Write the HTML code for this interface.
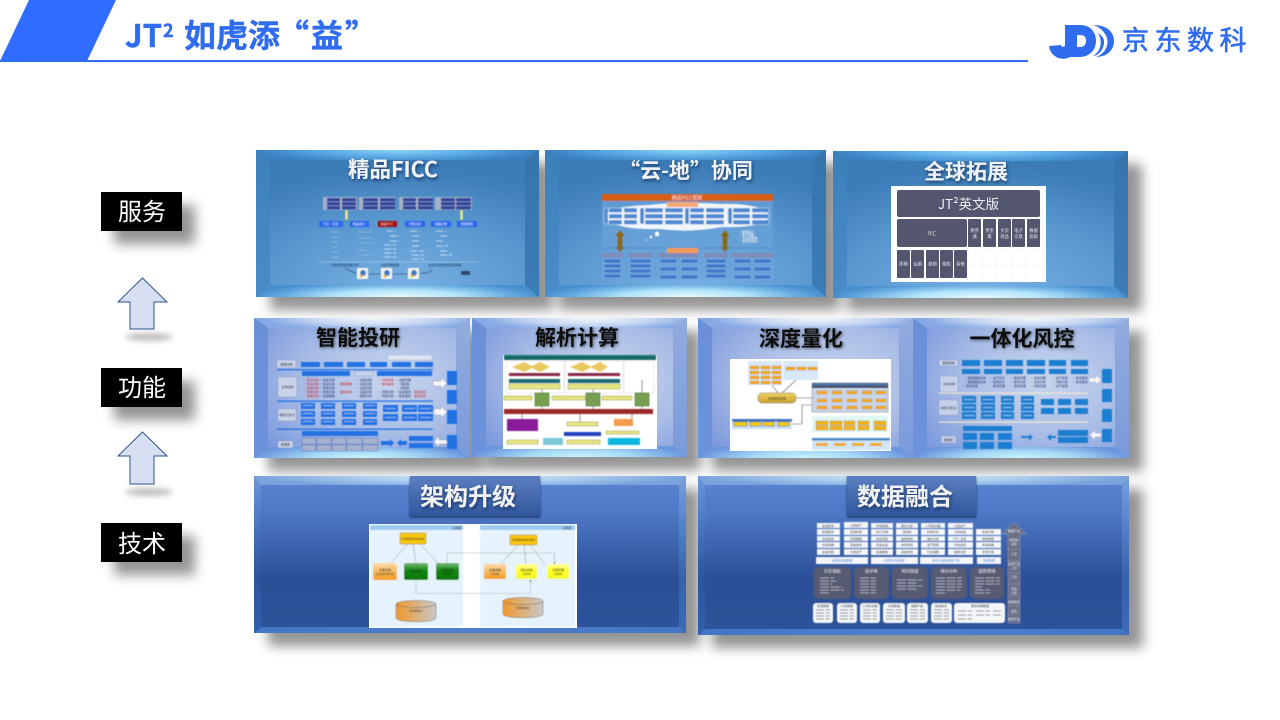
<!DOCTYPE html>
<html lang="zh"><head><meta charset="utf-8"><title>JT² 如虎添“益”</title>
<style>
html,body{margin:0;padding:0;background:#fff;width:1280px;height:720px;overflow:hidden}
svg{display:block}
text{font-family:"Liberation Sans","Noto Sans CJK SC",sans-serif}
.cjk{font-family:"Noto Sans CJK SC","Liberation Sans",sans-serif}
.tw{font-family:"Noto Sans CJK SC",sans-serif;font-weight:700;fill:#f0f3f6;text-anchor:middle}
.tb{font-family:"Noto Sans CJK SC",sans-serif;font-weight:700;fill:#111;text-anchor:middle}
.s{font-family:"Noto Sans CJK SC",sans-serif;font-size:3px;text-anchor:middle}
</style></head><body>
<svg width="1280" height="720" viewBox="0 0 1280 720" xmlns="http://www.w3.org/2000/svg">
<defs>
<filter id="b6" x="-30%" y="-30%" width="160%" height="160%"><feGaussianBlur stdDeviation="6"/></filter>
<filter id="b3" x="-30%" y="-30%" width="160%" height="160%"><feGaussianBlur stdDeviation="3"/></filter>
<filter id="m" x="-5%" y="-5%" width="110%" height="110%"><feGaussianBlur stdDeviation="0.4"/></filter>
<filter id="sw" x="-20%" y="-30%" width="140%" height="170%"><feDropShadow dx="1" dy="2" stdDeviation="1.6" flood-color="#0a2a50" flood-opacity=".75"/></filter>
<filter id="sb" x="-20%" y="-30%" width="140%" height="170%"><feDropShadow dx="1" dy="1" stdDeviation="1.5" flood-color="#000" flood-opacity=".55"/></filter>
<filter id="sbox" x="-10%" y="-20%" width="120%" height="150%"><feDropShadow dx="0" dy="1.5" stdDeviation="1.2" flood-color="#10264f" flood-opacity=".8"/></filter>

<radialGradient id="f1" cx=".52" cy=".95" r=".85"><stop offset="0" stop-color="#78b0e2"/><stop offset=".55" stop-color="#5a98d0"/><stop offset="1" stop-color="#3b7bb6"/></radialGradient>
<radialGradient id="t1" cx=".5" cy="0" r=".5" gradientTransform="translate(.5 0) scale(1 2.6) translate(-.5 0)"><stop offset="0" stop-color="#8ed2fa"/><stop offset=".55" stop-color="#58a8e4"/><stop offset="1" stop-color="#3a80c0"/></radialGradient>
<radialGradient id="bo1" cx=".5" cy="1" r=".5" gradientTransform="translate(.5 1) scale(1 2.6) translate(-.5 -1)"><stop offset="0" stop-color="#eafaff"/><stop offset=".45" stop-color="#b0e4fa"/><stop offset=".8" stop-color="#68ace2"/><stop offset="1" stop-color="#4a90d0"/></radialGradient>
<linearGradient id="l1" x1="0" x2="0" y1="0" y2="1"><stop offset="0" stop-color="#3c80ba"/><stop offset="1" stop-color="#4a8cc8"/></linearGradient>
<linearGradient id="r1" x1="0" x2="0" y1="0" y2="1"><stop offset="0" stop-color="#3674ac"/><stop offset="1" stop-color="#3c7cb8"/></linearGradient>

<radialGradient id="f2" cx=".62" cy=".45" r=".72"><stop offset="0" stop-color="#c9d5ee"/><stop offset=".55" stop-color="#a8bce6"/><stop offset="1" stop-color="#7a98dc"/></radialGradient>
<radialGradient id="t2" cx=".55" cy="0" r=".5" gradientTransform="translate(.55 0) scale(1 2.6) translate(-.55 0)"><stop offset="0" stop-color="#f4f8fc"/><stop offset=".55" stop-color="#c8d8f2"/><stop offset="1" stop-color="#86a8e4"/></radialGradient>
<radialGradient id="bo2" cx=".5" cy="1" r=".5" gradientTransform="translate(.5 1) scale(1 2.6) translate(-.5 -1)"><stop offset="0" stop-color="#c8f4fc"/><stop offset=".5" stop-color="#a4d8f6"/><stop offset="1" stop-color="#6a96de"/></radialGradient>
<linearGradient id="l2" x1="0" x2="0" y1="0" y2="1"><stop offset="0" stop-color="#6c90d8"/><stop offset="1" stop-color="#6c92dc"/></linearGradient>
<linearGradient id="r2" x1="0" x2="0" y1="0" y2="1"><stop offset="0" stop-color="#92acde"/><stop offset="1" stop-color="#7a9ada"/></linearGradient>

<linearGradient id="f3" x1="0" x2="0" y1="0" y2="1"><stop offset="0" stop-color="#5b85d2"/><stop offset=".22" stop-color="#4f79c6"/><stop offset=".65" stop-color="#2b4f96"/><stop offset="1" stop-color="#2d549a"/></linearGradient>
<radialGradient id="t3" cx=".5" cy="0" r=".5" gradientTransform="translate(.5 0) scale(1 2.6) translate(-.5 0)"><stop offset="0" stop-color="#d4eefa"/><stop offset=".55" stop-color="#a8ccee"/><stop offset="1" stop-color="#7aa2dc"/></radialGradient>
<linearGradient id="bo3" x1="0" x2="1" y1="0" y2="0"><stop offset="0" stop-color="#4275c2"/><stop offset=".5" stop-color="#4f80d0"/><stop offset="1" stop-color="#4275c2"/></linearGradient>
<linearGradient id="l3" x1="0" x2="0" y1="0" y2="1"><stop offset="0" stop-color="#6d97d8"/><stop offset=".25" stop-color="#507cc8"/><stop offset=".65" stop-color="#2d549c"/><stop offset="1" stop-color="#3160ae"/></linearGradient>
<linearGradient id="r3" x1="0" x2="0" y1="0" y2="1"><stop offset="0" stop-color="#78a0de"/><stop offset=".25" stop-color="#5c88d2"/><stop offset=".65" stop-color="#3660aa"/><stop offset="1" stop-color="#3d6cb8"/></linearGradient>
<linearGradient id="tb" x1="0" x2="0" y1="0" y2="1"><stop offset="0" stop-color="#5a7ec0"/><stop offset="1" stop-color="#32569c"/></linearGradient>
<linearGradient id="ye" x1="0" x2="0" y1="0" y2="1"><stop offset="0" stop-color="#f0d060"/><stop offset="1" stop-color="#caa030"/></linearGradient>
<linearGradient id="db" x1="0" x2="1" y1="0" y2="0"><stop offset="0" stop-color="#f0982c"/><stop offset="1" stop-color="#c8c8c8"/></linearGradient>
<linearGradient id="og" x1="0" x2="0" y1="0" y2="1"><stop offset="0" stop-color="#fbd9a8"/><stop offset="1" stop-color="#f59a1c"/></linearGradient>
<linearGradient id="gr" x1="0" x2="0" y1="0" y2="1"><stop offset="0" stop-color="#7cb87c"/><stop offset=".45" stop-color="#0c860c"/><stop offset="1" stop-color="#0a7a0a"/></linearGradient>
<linearGradient id="yl" x1="0" x2="0" y1="0" y2="1"><stop offset="0" stop-color="#ffffa0"/><stop offset=".5" stop-color="#ffff20"/><stop offset="1" stop-color="#f4f430"/></linearGradient>
</defs>

<rect width="1280" height="720" fill="#fff"/>

<!-- header -->
<polygon points="0,61 29,0 116,0 87,61" fill="#2f6cff"/>
<rect x="0" y="60" width="1028" height="2" fill="#2f6cf6"/>
<g font-weight="700" fill="#2f6cf0" stroke="#2f6cf0" stroke-width=".4">
<text x="125" y="47" font-size="31" class="cjk">JT</text>
<text x="163" y="37" font-size="18" class="cjk">2</text>
<text x="184" y="47" font-size="32" class="cjk">如虎添</text>
<text x="277" y="47" font-size="32" class="cjk">“</text>
<text x="311" y="47" font-size="32" class="cjk">益</text>
<text x="345" y="47" font-size="32" class="cjk">”</text>
</g>
<!-- logo -->
<g fill="none" stroke="#2f6cf0">
<path d="M1071 25V44A8 8 0 0 1 1055 45.500" stroke-width="12"/>
<path d="M1071 30H1080C1087 30 1091 34 1091 41C1091 47 1087 52 1080 52H1066" stroke-width="10"/>
</g>
<g fill="#2f6cf0">
<path d="M1093 25C1107 25 1114 32 1114 41C1114 50 1107 57 1096 57C1104 54 1109 47 1107 38C1105 32 1100 27 1093 25Z"/>
<path d="M1098 33C1103 42 1101 51 1093 56C1098 56 1105 49 1104 40C1103 37 1101 35 1098 33Z"/>
</g>
<text x="1122" y="50" font-size="27" letter-spacing="5.500" fill="#2f6cf0" stroke="#2f6cf0" stroke-width=".6" class="cjk">京东数科</text>

<!-- left column -->
<g filter="url(#b6)" fill="#000" opacity=".42">
<rect x="114" y="205" width="81" height="39"/><rect x="114" y="381" width="81" height="39"/><rect x="114" y="536" width="81" height="39"/>
</g>
<g filter="url(#b3)" fill="#000" opacity=".25">
<ellipse cx="149" cy="337" rx="24" ry="4"/><ellipse cx="149" cy="492" rx="24" ry="4"/>
</g>
<g fill="#000"><rect x="101" y="192" width="81" height="39"/><rect x="101" y="368" width="81" height="39"/><rect x="101" y="523" width="81" height="39"/></g>
<g fill="#fff" font-size="24" text-anchor="middle" class="cjk">
<text x="142" y="220" class="cjk">服务</text><text x="142" y="396" class="cjk">功能</text><text x="142" y="552" class="cjk">技术</text>
</g>
<g fill="#d6e0f2" stroke="#2f528f" stroke-width="1">
<polygon points="142.500,278 167,302 154,302 154,329 130,329 130,302 118,302"/>
<polygon points="142.500,432 167,456 154,456 154,484 130,484 130,456 118,456"/>
</g>

<!-- shadows -->
<g filter="url(#b6)" fill="#000" opacity=".42">
<rect x="270" y="163" width="283" height="147"/><rect x="559" y="163" width="281" height="147"/><rect x="847" y="164" width="295" height="147"/>
<rect x="268" y="331" width="216" height="140"/><rect x="486" y="331" width="215" height="139"/><rect x="712" y="331" width="215" height="140"/><rect x="927" y="331" width="216" height="140"/>
<rect x="268" y="489" width="432" height="157"/><rect x="712" y="489" width="431" height="159"/>
</g>

<!-- Row 1 panels -->
<rect x="256" y="150" width="283" height="147" fill="url(#f1)"/>
<polygon points="256,150 539,150 525,160 270,160" fill="url(#t1)"/><polygon points="256,297 539,297 525,285 270,285" fill="url(#bo1)"/><polygon points="256,150 270,160 270,285 256,297" fill="url(#l1)"/><polygon points="539,150 525,160 525,285 539,297" fill="url(#r1)"/>
<rect x="545" y="150" width="281" height="147" fill="url(#f1)"/>
<polygon points="545,150 826,150 812,160 559,160" fill="url(#t1)"/><polygon points="545,297 826,297 812,285 559,285" fill="url(#bo1)"/><polygon points="545,150 559,160 559,285 545,297" fill="url(#l1)"/><polygon points="826,150 812,160 812,285 826,297" fill="url(#r1)"/>
<rect x="833" y="151" width="295" height="147" fill="url(#f1)"/>
<polygon points="833,151 1128,151 1114,161 847,161 " fill="url(#t1)"/><polygon points="833,298 1128,298 1114,286 847,286" fill="url(#bo1)"/><polygon points="833,151 847,161 847,286 833,298" fill="url(#l1)"/><polygon points="1128,151 1114,161 1114,286 1128,298" fill="url(#r1)"/>

<!-- Row 2 panels -->
<rect x="254" y="318" width="216" height="140" fill="url(#f2)"/>
<polygon points="254,318 470,318 456,328 268,328" fill="url(#t2)"/><polygon points="254,458 470,458 456,447 268,447" fill="url(#bo2)"/><polygon points="254,318 268,328 268,447 254,458" fill="url(#l2)"/><polygon points="470,318 456,328 456,447 470,458" fill="url(#r2)"/>
<rect x="472" y="318" width="215" height="139" fill="url(#f2)"/>
<polygon points="472,318 687,318 673,328 486,328" fill="url(#t2)"/><polygon points="472,457 687,457 673,446 486,446" fill="url(#bo2)"/><polygon points="472,318 486,328 486,446 472,457" fill="url(#l2)"/><polygon points="687,318 673,328 673,446 687,457" fill="url(#r2)"/>
<rect x="698" y="318" width="215" height="140" fill="url(#f2)"/>
<polygon points="698,318 913,318 899,328 712,328" fill="url(#t2)"/><polygon points="698,458 913,458 899,447 712,447" fill="url(#bo2)"/><polygon points="698,318 712,328 712,447 698,458" fill="url(#l2)"/><polygon points="913,318 899,328 899,447 913,458" fill="url(#r2)"/>
<rect x="913" y="318" width="216" height="140" fill="url(#f2)"/>
<polygon points="913,318 1129,318 1115,328 927,328" fill="url(#t2)"/><polygon points="913,458 1129,458 1115,447 927,447" fill="url(#bo2)"/><polygon points="913,318 927,328 927,447 913,458" fill="url(#l2)"/><polygon points="1129,318 1115,328 1115,447 1129,458" fill="url(#r2)"/>

<!-- Row 3 panels -->
<rect x="254" y="476" width="432" height="157" fill="url(#f3)"/>
<polygon points="254,476 686,476 679,485 261,485" fill="url(#t3)"/><polygon points="254,633 686,633 679,627 261,627" fill="url(#bo3)"/><polygon points="254,476 261,485 261,627 254,633" fill="url(#l3)"/><polygon points="686,476 679,485 679,627 686,633" fill="url(#r3)"/>
<rect x="698" y="476" width="431" height="159" fill="url(#f3)"/>
<polygon points="698,476 1129,476 1122,485 705,485" fill="url(#t3)"/><polygon points="698,635 1129,635 1122,629 705,629" fill="url(#bo3)"/><polygon points="698,476 705,485 705,629 698,635" fill="url(#l3)"/><polygon points="1129,476 1122,485 1122,629 1129,635" fill="url(#r3)"/>
<rect x="410" y="476" width="130" height="40" fill="url(#tb)" filter="url(#sbox)"/>
<rect x="847" y="476" width="129" height="40" fill="url(#tb)" filter="url(#sbox)"/>

<!-- Titles -->
<g filter="url(#sw)">
<text x="393" y="177" font-size="21.500" class="tw">精品FICC</text>
<text x="686" y="178" font-size="21" class="tw">“云-地”协同</text>
<text x="966" y="179" font-size="21" class="tw">全球拓展</text>
<text x="468" y="505" font-size="24" class="tw">架构升级</text>
<text x="905" y="505" font-size="24" class="tw">数据融合</text>
</g>
<g filter="url(#sb)">
<text x="358" y="345" font-size="21" class="tb">智能投研</text>
<text x="577" y="345" font-size="21" class="tb">解析计算</text>
<text x="801" y="346" font-size="21" class="tb">深度量化</text>
<text x="1022" y="346" font-size="21" class="tb">一体化风控</text>
</g>

<!-- P1 diagram -->
<g filter="url(#m)">
<g fill="#a4b0c8"><rect x="323" y="197" width="34" height="13"/><rect x="359" y="197" width="36" height="13"/><rect x="399" y="197" width="34" height="13"/><rect x="435" y="197" width="37" height="13"/></g>
<g fill="#33449c">
<rect x="327" y="198" width="13" height="3.500"/><rect x="342" y="198" width="14" height="3.500"/><rect x="327" y="202" width="13" height="3.500"/><rect x="342" y="202" width="14" height="3.500"/><rect x="327" y="206" width="13" height="3.500"/><rect x="342" y="206" width="14" height="3.500"/>
<rect x="363" y="198" width="15" height="3.500"/><rect x="380" y="198" width="15" height="3.500"/><rect x="363" y="202" width="15" height="3.500"/><rect x="380" y="202" width="15" height="3.500"/><rect x="363" y="206" width="15" height="3.500"/><rect x="380" y="206" width="15" height="3.500"/>
<rect x="403" y="198" width="13" height="3.500"/><rect x="418" y="198" width="15" height="3.500"/><rect x="403" y="202" width="13" height="3.500"/><rect x="418" y="202" width="15" height="3.500"/><rect x="403" y="206" width="13" height="3.500"/><rect x="418" y="206" width="15" height="3.500"/>
<rect x="441" y="198" width="14" height="3.500"/><rect x="456" y="198" width="15" height="3.500"/><rect x="441" y="202" width="14" height="3.500"/><rect x="456" y="202" width="15" height="3.500"/><rect x="441" y="206" width="14" height="3.500"/><rect x="456" y="206" width="15" height="3.500"/>
</g>
<g fill="#e6e8a8" stroke="#4f7a50" stroke-width=".4"><rect x="345" y="210" width="3" height="10"/><rect x="460" y="210" width="3" height="10"/></g>
<g fill="#2a68f0"><rect x="319" y="221" width="24" height="6"/><rect x="350" y="221" width="19" height="6"/><rect x="405" y="221" width="20" height="6"/><rect x="431" y="221" width="20" height="6"/><rect x="457" y="221" width="20" height="6"/></g>
<rect x="378" y="221" width="19" height="6" fill="#a01010"/>
<g><text x="331" y="225.200" class="s" fill="#eef">外汇·衍生</text><text x="359" y="225.200" class="s" fill="#eef">精品定价</text><text x="415" y="225.200" class="s" fill="#eef">风险分析</text><text x="441" y="225.200" class="s" fill="#eef">策略交易</text><text x="467" y="225.200" class="s" fill="#eef">数据服务</text><text x="387" y="225.200" class="s" fill="#fcc">精品FICC</text></g>
<g stroke="#a8cfee" stroke-width="1" stroke-dasharray="7 2" opacity=".6"><path d="M330 232H340M332 237H338M332 242H338M332 247H338M332 252H338M332 257H338"/><path d="M358 232H372M360 238H372M360 243H372M358 250H368M362 255H372"/></g>
<g stroke="#dff0ff" stroke-width="1" stroke-dasharray="7 2" opacity=".75"><path d="M386 231H396M390 236H400M390 241H400M384 245H396M384 249H396M384 253H396M384 257H396"/><path d="M410 231H420M412 236H420M412 241H420M412 246H420M410 251H424M412 255H424M412 259H424"/><path d="M436 231H446M440 236H448M436 241H444M436 246H448M440 251H448M440 255H452"/></g>
<path d="M319 262H478" stroke="#b8d4ec" stroke-width=".5"/>
<text x="345" y="266" class="s" fill="#163058">综合研究和决策分析</text><text x="390" y="266" class="s" fill="#163058">交易流程管理</text><text x="445" y="266" class="s" fill="#163058">投资支持和中台风控管理</text>
<path d="M345 268Q355 274 358 273M432 270Q430 274 420 273M369 274H383M393 274H408" stroke="#1e3a5a" fill="none" stroke-width=".6"/>
<g fill="#f5f5e8"><rect x="357" y="268" width="11" height="11"/><rect x="381" y="268" width="11" height="11"/><rect x="408" y="268" width="11" height="11"/></g>
<g fill="#3d78c8"><circle cx="363" cy="273" r="3"/><circle cx="387" cy="273" r="3"/><circle cx="414" cy="273" r="3"/></g>
<g fill="#e0b040"><circle cx="361" cy="276" r="1.500"/><circle cx="385" cy="276" r="1.500"/><circle cx="412" cy="276" r="1.500"/></g>
<rect x="461" y="271" width="9" height="4" rx="1" fill="#2d4a70"/>
</g>

<!-- P2 diagram -->
<g filter="url(#m)">
<rect x="602" y="201" width="171" height="78" fill="#6aa2d8" opacity=".7"/>
<rect x="602" y="194" width="171" height="7" fill="#d65f14"/>
<text x="687" y="199.500" class="s" style="font-size:5px" fill="#fde">精品FICC框架</text>
<path d="M604 216Q610 206 650 205Q680 201 720 204Q762 203 770 216Q764 228 722 227Q690 233 660 229Q612 230 604 216Z" fill="#f2f6fa"/>
<rect x="667" y="202" width="31" height="5" fill="#f3a874"/>
<g fill="#4f88d2" stroke="#eef4fb" stroke-width=".4">
<rect x="604" y="208" width="4" height="16"/><rect x="640" y="208" width="4" height="16"/><rect x="685" y="208" width="4" height="16"/><rect x="728" y="208" width="4" height="16"/>
<rect x="609" y="208" width="13" height="4.500"/><rect x="624" y="208" width="13" height="4.500"/><rect x="609" y="214" width="13" height="4.500"/><rect x="624" y="214" width="13" height="4.500"/><rect x="609" y="220" width="13" height="4.500"/><rect x="624" y="220" width="13" height="4.500"/>
<rect x="645" y="208" width="18" height="4.500"/><rect x="665" y="208" width="18" height="4.500"/><rect x="645" y="214" width="18" height="4.500"/><rect x="665" y="214" width="18" height="4.500"/><rect x="645" y="220" width="18" height="4.500"/><rect x="665" y="220" width="18" height="4.500"/>
<rect x="690" y="208" width="14" height="4.500"/><rect x="706" y="208" width="18" height="4.500"/><rect x="690" y="214" width="14" height="4.500"/><rect x="706" y="214" width="18" height="4.500"/><rect x="690" y="220" width="14" height="4.500"/><rect x="706" y="220" width="18" height="4.500"/>
<rect x="733" y="208" width="17" height="4.500"/><rect x="752" y="208" width="17" height="4.500"/><rect x="733" y="214" width="17" height="4.500"/><rect x="752" y="214" width="17" height="4.500"/><rect x="733" y="220" width="17" height="4.500"/><rect x="752" y="220" width="17" height="4.500"/>
</g>
<g fill="#8a6a0c"><polygon points="620,230 625,236 622.500,236 622.500,247 625,247 620,252 615,247 617.500,247 617.500,236 615,236"/><polygon points="725,230 730,236 727.500,236 727.500,247 730,247 725,252 720,247 722.500,247 722.500,236 720,236"/></g>
<g fill="#fff"><circle cx="657" cy="234" r="2.200"/><circle cx="651" cy="237" r="1.200"/><circle cx="647" cy="240" r=".6"/></g>
<text x="746" y="233" class="s" fill="#fff">· 数据接口</text><text x="746" y="236" class="s" fill="#fff">· 算子调用</text><text x="748" y="239" class="s" fill="#fff">· 平台化服务</text><text x="748" y="242" class="s" fill="#fff">· 配置化运营</text>
<path d="M602 248H773" stroke="#3f78b4" stroke-width=".5"/>
<rect x="667" y="248" width="31" height="5" fill="#f39a58"/>
<g fill="#7f8cb8"><rect x="602" y="253" width="21" height="4.500"/><rect x="628" y="253" width="25" height="4.500"/><rect x="658" y="253" width="41" height="4.500"/><rect x="704" y="253" width="24" height="4.500"/><rect x="732" y="253" width="41" height="4.500"/></g>
<g fill="#3f78cc" stroke="#9cc2e8" stroke-width=".4">
<rect x="604" y="259" width="17" height="4"/><rect x="604" y="264" width="17" height="4"/><rect x="604" y="269" width="17" height="4"/><rect x="604" y="274" width="17" height="4"/>
<rect x="630" y="259" width="21" height="4"/><rect x="630" y="264" width="21" height="4"/><rect x="630" y="269" width="21" height="4"/><rect x="630" y="274" width="21" height="4"/>
<rect x="660" y="259" width="17" height="4"/><rect x="681" y="259" width="17" height="4"/><rect x="660" y="267" width="17" height="4"/><rect x="681" y="267" width="17" height="4"/><rect x="660" y="275" width="17" height="4"/><rect x="681" y="275" width="17" height="4"/>
<rect x="706" y="259" width="20" height="4"/><rect x="706" y="264" width="20" height="4"/><rect x="706" y="269" width="20" height="4"/><rect x="706" y="274" width="20" height="4"/>
<rect x="734" y="259" width="17" height="4"/><rect x="754" y="259" width="17" height="4"/><rect x="734" y="267" width="17" height="4"/><rect x="754" y="267" width="17" height="4"/><rect x="734" y="275" width="17" height="4"/><rect x="754" y="275" width="17" height="4"/>
</g>
</g>

<!-- P3 diagram -->
<rect x="891" y="186" width="155" height="96" fill="#fff"/>
<g stroke="#ececec" stroke-width=".5"><path d="M968 250V282M982 250V282M997 250V282M1011 250V282M1026 250V282M968 250H1040M968 265H1040"/></g>
<g fill="#53566e">
<rect x="897" y="190" width="143" height="27" rx="2"/><rect x="897" y="219" width="70" height="28" rx="2"/>
<rect x="968" y="219" width="13" height="28" rx="1"/><rect x="983" y="219" width="13" height="28" rx="1"/><rect x="998" y="219" width="13" height="28" rx="1"/><rect x="1012" y="219" width="13" height="28" rx="1"/><rect x="1027" y="219" width="13" height="28" rx="1"/>
<rect x="897" y="250" width="13" height="28" rx="1"/><rect x="911" y="250" width="13" height="28" rx="1"/><rect x="926" y="250" width="13" height="28" rx="1"/><rect x="940" y="250" width="13" height="28" rx="1"/><rect x="954" y="250" width="13" height="28" rx="1"/>
</g>
<text x="968.500" y="209" style="font-size:13.500px;text-anchor:middle" class="cjk" fill="#eeeef4">JT²英文版</text>
<text x="932" y="235" class="s" style="font-size:4.500px" fill="#e8e8f0">外汇</text>
<text x="974.500" y="232" class="s" style="font-size:4.300px" fill="#e8e8f0">债券</text><text x="974.500" y="238" class="s" style="font-size:4.300px" fill="#e8e8f0">通</text>
<text x="989.500" y="232" class="s" style="font-size:4.300px" fill="#e8e8f0">贵金</text><text x="989.500" y="238" class="s" style="font-size:4.300px" fill="#e8e8f0">属</text>
<text x="1004.500" y="232" class="s" style="font-size:4.300px" fill="#e8e8f0">大宗</text><text x="1004.500" y="238" class="s" style="font-size:4.300px" fill="#e8e8f0">商品</text>
<text x="1018.500" y="232" class="s" style="font-size:4.300px" fill="#e8e8f0">电子</text><text x="1018.500" y="238" class="s" style="font-size:4.300px" fill="#e8e8f0">交易</text>
<text x="1033.500" y="232" class="s" style="font-size:4.300px" fill="#e8e8f0">数据</text><text x="1033.500" y="238" class="s" style="font-size:4.300px" fill="#e8e8f0">投研</text>
<text x="903.500" y="265.500" class="s" style="font-size:4.300px" fill="#e8e8f0">即期</text><text x="917.500" y="265.500" class="s" style="font-size:4.300px" fill="#e8e8f0">远期</text><text x="932.500" y="265.500" class="s" style="font-size:4.300px" fill="#e8e8f0">掉期</text><text x="946.500" y="265.500" class="s" style="font-size:4.300px" fill="#e8e8f0">期权</text><text x="960.500" y="265.500" class="s" style="font-size:4.300px" fill="#e8e8f0">拆借</text>

<!-- P4 diagram -->
<g filter="url(#m)">
<rect x="388" y="355" width="44" height="5" fill="#dfe5f5" stroke="#99a" stroke-width=".3"/>
<g fill="#c9d3ea" stroke="#7080b0" stroke-width=".3"><rect x="277" y="360" width="19" height="8"/><rect x="278" y="377" width="19" height="20"/><rect x="278" y="409" width="18" height="12"/><rect x="278" y="441" width="15" height="7"/><rect x="355" y="371" width="18" height="5"/></g>
<text x="286.500" y="365.500" class="s" fill="#223">数据领域</text><text x="287.500" y="388" class="s" fill="#223">业务应用</text><text x="287" y="416" class="s" fill="#223">模型与算法</text><text x="285.500" y="445.700" class="s" fill="#223">数据层</text>
<g fill="#2472e4">
<rect x="301" y="362" width="19" height="5"/><rect x="324" y="362" width="19" height="5"/><rect x="347" y="362" width="18" height="5"/><rect x="370" y="362" width="17" height="5"/><rect x="392" y="362" width="19" height="5"/><rect x="415" y="362" width="18" height="5"/>
<rect x="277" y="369" width="156" height="1.300"/><rect x="277" y="400.500" width="156" height="1.300"/><rect x="277" y="428.500" width="156" height="1.300"/>
<rect x="302" y="371" width="48" height="5"/><rect x="377" y="371" width="55" height="5"/>
<rect x="301" y="403" width="14" height="6"/><rect x="321" y="403" width="14" height="6"/><rect x="342" y="403" width="14" height="6"/><rect x="363" y="403" width="14" height="6"/>
<rect x="301" y="411" width="14" height="6"/><rect x="321" y="411" width="14" height="6"/><rect x="342" y="411" width="14" height="6"/><rect x="363" y="411" width="14" height="6"/>
<rect x="301" y="419" width="14" height="6"/><rect x="321" y="419" width="14" height="6"/><rect x="342" y="419" width="14" height="6"/><rect x="363" y="419" width="14" height="6"/>
<rect x="383" y="405" width="15" height="7"/><rect x="402" y="405" width="15" height="7"/><rect x="418" y="405" width="15" height="7"/><rect x="383" y="414" width="15" height="7"/><rect x="402" y="414" width="15" height="7"/><rect x="418" y="414" width="15" height="7"/>
<rect x="302" y="431" width="76" height="5"/>
<rect x="409" y="436" width="24" height="5"/><rect x="409" y="443" width="24" height="5"/>
<rect x="447" y="371" width="10" height="14"/><rect x="447" y="390" width="10" height="14"/><rect x="447" y="410" width="10" height="14"/><rect x="447" y="435" width="10" height="14"/>
<polygon points="381,441 390,441 390,439 394,443 390,447 390,445 381,445"/><polygon points="407,441 401,441 401,439 397,443 401,447 401,445 407,445"/>
</g>
<g fill="#e8eefc" opacity=".55"><rect x="303" y="405" width="10" height="1"/><rect x="323" y="405" width="10" height="1"/><rect x="344" y="405" width="10" height="1"/><rect x="365" y="405" width="10" height="1"/><rect x="303" y="413" width="10" height="1"/><rect x="323" y="413" width="10" height="1"/><rect x="344" y="413" width="10" height="1"/><rect x="365" y="413" width="10" height="1"/><rect x="303" y="421" width="10" height="1"/><rect x="323" y="421" width="10" height="1"/><rect x="344" y="421" width="10" height="1"/><rect x="365" y="421" width="10" height="1"/><rect x="385" y="408" width="11" height="1"/><rect x="404" y="408" width="11" height="1"/><rect x="420" y="408" width="11" height="1"/><rect x="385" y="417" width="11" height="1"/><rect x="404" y="417" width="11" height="1"/><rect x="420" y="417" width="11" height="1"/></g>
<g fill="#a8b2cc" stroke="#2f5cc0" stroke-width=".4">
<rect x="302" y="438" width="14" height="6"/><rect x="317" y="438" width="14" height="6"/><rect x="332" y="438" width="14" height="6"/><rect x="347" y="438" width="15" height="6"/><rect x="363" y="438" width="15" height="6"/>
<rect x="302" y="445" width="14" height="6"/><rect x="317" y="445" width="14" height="6"/><rect x="332" y="445" width="14" height="6"/><rect x="347" y="445" width="15" height="6"/><rect x="363" y="445" width="15" height="6"/>
</g>
<g><text x="311" y="381" class="s" fill="#d01818">· 定价分析</text><text x="311" y="385" class="s" fill="#d01818">· 定价分析</text><text x="311" y="389" class="s" fill="#d01818">· 信用分析</text><text x="311" y="393" class="s" fill="#d01818">· 信用分析</text><text x="311" y="397" class="s" fill="#d01818">· 信用分析</text><text x="346" y="385" class="s" fill="#d01818">研究报告</text><text x="346" y="393" class="s" fill="#d01818">舆情分析</text><text x="386" y="381" class="s" fill="#d01818">· 行情分析</text><text x="386" y="385" class="s" fill="#d01818">· 投资组合</text><text x="420" y="393" class="s" fill="#d01818">估值分析</text><text x="420" y="397" class="s" fill="#d01818">估值分析</text></g>
<g><text x="327" y="381" class="s" fill="#1a2a60">· 企业分析</text><text x="327" y="385" class="s" fill="#1a2a60">· 企业分析</text><text x="327" y="389" class="s" fill="#1a2a60">· 财务分析</text><text x="327" y="393" class="s" fill="#1a2a60">· 财务分析</text><text x="327" y="397" class="s" fill="#1a2a60">· 估值模型</text><text x="364" y="381" class="s" fill="#1a2a60">· 业绩归因</text><text x="364" y="385" class="s" fill="#1a2a60">· 业绩归因</text><text x="364" y="389" class="s" fill="#1a2a60">· 业绩归因</text><text x="364" y="393" class="s" fill="#1a2a60">· 业绩归因</text><text x="364" y="397" class="s" fill="#1a2a60">· 模型分析</text><text x="403" y="381" class="s" fill="#1a2a60">· 资金管理</text><text x="403" y="385" class="s" fill="#1a2a60">· 流动性</text><text x="403" y="389" class="s" fill="#1a2a60">· 流动性</text><text x="386" y="393" class="s" fill="#1a2a60">· 风险分析</text><text x="386" y="397" class="s" fill="#1a2a60">· 风险分析</text><text x="403" y="393" class="s" fill="#1a2a60">· 投资组合</text><text x="403" y="397" class="s" fill="#1a2a60">· 投资组合</text></g>
<g fill="#f6f6fa" stroke="#667" stroke-width=".3">
<polygon points="433,381 441,381 441,378 447,383 441,389 441,386 433,386"/><polygon points="434,409 441,409 441,406 447,412 441,418 441,415 434,415"/><polygon points="447,440 439,440 439,436 434,442 439,447 439,444 447,444"/>
</g>
</g>

<!-- P5 diagram -->
<rect x="503" y="355" width="154" height="94" fill="#fff"/>
<g filter="url(#m)">
<rect x="504" y="355" width="152" height="5" fill="#156a6a"/>
<g fill="none" stroke="#ccc" stroke-width=".4"><rect x="506" y="361" width="58" height="32"/><rect x="565" y="361" width="58" height="32"/><rect x="624" y="361" width="30" height="32"/></g>
<g fill="#e9c860"><polygon points="512,367 524,362 534,367 524,372"/><polygon points="530,367 540,362 550,367 540,372"/><polygon points="570,367 582,362 592,367 582,372"/><polygon points="590,367 600,362 608,367 600,372"/></g>
<g fill="#8a2a4a"><rect x="509" y="373" width="51" height="3"/><rect x="568" y="373" width="52" height="3"/></g>
<g fill="#1e6a78"><rect x="509" y="379" width="51" height="4"/><rect x="568" y="379" width="52" height="4"/></g>
<g fill="#e8e480" stroke="#6a8030" stroke-width=".4"><rect x="509" y="384" width="51" height="5"/><rect x="568" y="384" width="52" height="5"/><rect x="504" y="396" width="28" height="4"/><rect x="552" y="396" width="33" height="4"/><rect x="602" y="396" width="30" height="4"/><rect x="567" y="422" width="31" height="4"/><rect x="507" y="440" width="31" height="4"/><rect x="567" y="440" width="33" height="4"/><rect x="606" y="431" width="33" height="3"/></g>
<g fill="#76a050" stroke="#3a5a20" stroke-width=".5"><rect x="535" y="393" width="14" height="13"/><rect x="586" y="393" width="14" height="13"/><rect x="635" y="393" width="14" height="13"/></g>
<path d="M542 389V393M593 389V393M642 380V393M522 414V419M580 414V422M632 414V419M542 406V409M593 406V409M642 406V409" stroke="#333" stroke-width=".5"/>
<rect x="504" y="409" width="149" height="5" fill="#9a2a2a"/>
<rect x="507" y="419" width="31" height="12" fill="#8a1a9a"/>
<rect x="614" y="419" width="19" height="7" fill="#f69a4c"/>
<rect x="564" y="432" width="37" height="4" fill="#2040c0"/>
<rect x="543" y="438" width="20" height="7" fill="#7cc8d8"/>
<rect x="608" y="438" width="32" height="7" fill="#10b8e0"/>
</g>

<!-- P6 diagram -->
<rect x="730" y="359" width="161" height="92" fill="#fff"/>
<g filter="url(#m)">
<rect x="748" y="361" width="34" height="24" fill="#d8e8f8"/><rect x="783" y="361" width="35" height="19" fill="#d8e8f8"/>
<g fill="#f4a814" stroke="#b07a10" stroke-width=".3">
<rect x="750" y="366" width="9" height="3"/><rect x="761" y="366" width="9" height="3"/><rect x="772" y="366" width="9" height="3"/><rect x="750" y="371" width="9" height="3"/><rect x="761" y="371" width="9" height="3"/><rect x="772" y="371" width="9" height="3"/><rect x="750" y="376" width="9" height="3"/><rect x="761" y="376" width="9" height="3"/><rect x="772" y="376" width="9" height="3"/><rect x="750" y="381" width="9" height="3"/><rect x="761" y="381" width="9" height="3"/><rect x="772" y="381" width="9" height="3"/>
<rect x="786" y="367" width="9" height="3"/><rect x="797" y="367" width="9" height="3"/><rect x="808" y="367" width="9" height="3"/>
</g>
<path d="M772 385L778 393M796 380L782 393M796 398H812M792 424H802V405H812" stroke="#555" stroke-width=".6" fill="none"/>
<rect x="758" y="393" width="38" height="10" rx="4" fill="url(#ye)" stroke="#777" stroke-width=".5"/>
<text x="777" y="399.500" class="s" fill="#333">业务量化系统</text>
<rect x="812" y="383" width="76" height="29" fill="#c8d4e8" stroke="#556" stroke-width=".4"/>
<rect x="812" y="383" width="76" height="3" fill="#5070a0"/>
<rect x="812" y="386" width="76" height="2" fill="#404860"/>
<g fill="#f4a814" stroke="#b07a10" stroke-width=".3">
<rect x="817" y="391" width="10" height="3"/><rect x="832" y="391" width="10" height="3"/><rect x="847" y="391" width="10" height="3"/><rect x="862" y="391" width="10" height="3"/><rect x="876" y="391" width="10" height="3"/>
<rect x="817" y="399" width="10" height="3"/><rect x="832" y="399" width="10" height="3"/><rect x="847" y="399" width="10" height="3"/><rect x="862" y="399" width="10" height="3"/><rect x="876" y="399" width="10" height="3"/>
<rect x="817" y="406" width="10" height="3"/><rect x="832" y="406" width="10" height="3"/><rect x="847" y="406" width="10" height="3"/><rect x="862" y="406" width="10" height="3"/><rect x="876" y="406" width="10" height="3"/>
</g>
<rect x="812" y="416" width="76" height="16" fill="#dff6f4"/>
<g fill="#f4b414" stroke="#a07a10" stroke-width=".4">
<rect x="816" y="421" width="12" height="4"/><rect x="830" y="421" width="12" height="4"/><rect x="844" y="421" width="11" height="4"/><rect x="858" y="421" width="11" height="4"/><rect x="874" y="421" width="12" height="4"/>
<rect x="816" y="426" width="12" height="4"/><rect x="830" y="426" width="12" height="4"/><rect x="844" y="426" width="11" height="4"/><rect x="858" y="426" width="11" height="4"/><rect x="874" y="426" width="12" height="4"/>
</g>
<rect x="812" y="438" width="78" height="12" fill="#cfe6f6"/><rect x="812" y="438" width="78" height="2.500" fill="#4a88c8"/>
<g fill="#f0a820"><rect x="816" y="443" width="12" height="3"/><rect x="834" y="443" width="12" height="3"/><rect x="852" y="443" width="12" height="3"/><rect x="870" y="443" width="12" height="3"/></g>
<rect x="732" y="419" width="60" height="10" fill="#c8e0f2"/><rect x="732" y="419" width="60" height="2.500" fill="#3a70c0"/>
<g fill="#f4d010" stroke="#333" stroke-width=".4"><rect x="734" y="422" width="13" height="4"/><rect x="750" y="422" width="11" height="4"/><rect x="763" y="422" width="11" height="4"/><rect x="778" y="422" width="11" height="4"/></g>
</g>

<!-- P7 diagram -->
<g filter="url(#m)">
<g fill="#c6d2ea" stroke="#7080b0" stroke-width=".3"><rect x="939" y="360" width="19" height="6"/><rect x="940" y="376" width="18" height="16"/><rect x="939" y="400" width="19" height="15"/><rect x="941" y="436" width="15" height="7"/></g>
<text x="948.500" y="364" class="s" fill="#223">数据领域</text><text x="949" y="385" class="s" fill="#223">业务应用</text><text x="948.500" y="409" class="s" fill="#223">模型与算法</text><text x="948.500" y="441" class="s" fill="#223">数据层</text>
<g fill="#1f7ed0">
<rect x="962" y="360" width="18" height="6"/><rect x="984" y="360" width="18" height="6"/><rect x="1006" y="360" width="17" height="6"/><rect x="1027" y="360" width="18" height="6"/><rect x="1049" y="360" width="17" height="6"/><rect x="1071" y="360" width="17" height="6"/>
<rect x="962" y="369" width="18" height="5"/><rect x="984" y="369" width="18" height="5"/><rect x="1006" y="369" width="17" height="5"/><rect x="1027" y="369" width="18" height="5"/><rect x="1049" y="369" width="17" height="5"/><rect x="1071" y="369" width="17" height="5"/>
<rect x="962" y="396" width="14" height="7"/><rect x="981" y="396" width="14" height="7"/><rect x="1001" y="396" width="13" height="7"/><rect x="1021" y="396" width="13" height="7"/>
<rect x="962" y="404" width="14" height="7"/><rect x="981" y="404" width="14" height="7"/><rect x="1001" y="404" width="13" height="7"/><rect x="1021" y="404" width="13" height="7"/>
<rect x="962" y="412" width="14" height="7"/><rect x="981" y="412" width="14" height="7"/><rect x="1001" y="412" width="13" height="7"/><rect x="1021" y="412" width="13" height="7"/>
<rect x="1041" y="399" width="13" height="6"/><rect x="1058" y="399" width="13" height="6"/><rect x="1075" y="399" width="13" height="6"/><rect x="1041" y="408" width="13" height="6"/><rect x="1058" y="408" width="13" height="6"/><rect x="1075" y="408" width="13" height="6"/>
<rect x="963" y="426" width="49" height="5"/><rect x="963" y="433" width="14" height="7"/><rect x="980" y="433" width="14" height="7"/><rect x="998" y="433" width="14" height="7"/><rect x="963" y="442" width="14" height="7"/><rect x="980" y="442" width="14" height="7"/><rect x="998" y="442" width="14" height="7"/>
<rect x="1058" y="430" width="30" height="6"/><rect x="1058" y="437" width="30" height="6"/>
<rect x="1102" y="369" width="10" height="14"/><rect x="1102" y="389" width="10" height="13"/><rect x="1102" y="409" width="10" height="13"/><rect x="1102" y="429" width="10" height="13"/>
<polygon points="1021,436 1029,436 1029,434 1033,437 1029,441 1029,438 1021,438"/><polygon points="1056,436 1051,436 1051,434 1047,437 1051,441 1051,438 1056,438"/>
</g>
<g fill="#e8f0fc" opacity=".55"><rect x="964" y="399" width="10" height="1"/><rect x="983" y="399" width="10" height="1"/><rect x="1003" y="399" width="9" height="1"/><rect x="1023" y="399" width="9" height="1"/><rect x="964" y="407" width="10" height="1"/><rect x="983" y="407" width="10" height="1"/><rect x="1003" y="407" width="9" height="1"/><rect x="1023" y="407" width="9" height="1"/><rect x="964" y="415" width="10" height="1"/><rect x="983" y="415" width="10" height="1"/><rect x="1003" y="415" width="9" height="1"/><rect x="1023" y="415" width="9" height="1"/></g>
<g fill="#f0e8d0"><rect x="939" y="392.500" width="149" height="1.200"/><rect x="939" y="421.500" width="149" height="1.200"/></g>
<g><text x="975" y="379" class="s" fill="#203268">· 融资融券业务</text><text x="975" y="383" class="s" fill="#203268">· 股票期权业务</text><text x="970" y="387" class="s" fill="#203268">· 固定收益</text><text x="997" y="379" class="s" fill="#203268">· 资产负债</text><text x="997" y="383" class="s" fill="#203268">· 估值定价</text><text x="997" y="387" class="s" fill="#203268">· 投资管理</text><text x="1018" y="379" class="s" fill="#203268">· 组合管理</text><text x="1018" y="383" class="s" fill="#203268">· 量化分析</text><text x="1018" y="387" class="s" fill="#203268">· 信用管理</text><text x="1038" y="379" class="s" fill="#203268">· 业务流程</text><text x="1038" y="383" class="s" fill="#203268">· 业务分析</text><text x="1038" y="387" class="s" fill="#203268">· 风险管理</text><text x="1060" y="379" class="s" fill="#203268">· 资产配置</text><text x="1060" y="383" class="s" fill="#203268">· 风险分析</text><text x="1060" y="387" class="s" fill="#203268">· 资产配置</text><text x="1080" y="379" class="s" fill="#203268">· 投资组合</text><text x="1080" y="383" class="s" fill="#203268">· 投资组合</text></g>
<g fill="#f6f6fa" stroke="#889" stroke-width=".3"><polygon points="1089,378 1096,378 1096,375 1101,380 1096,385 1096,382 1089,382"/><polygon points="1101,433 1095,433 1095,430 1090,435 1095,440 1095,437 1101,437"/></g>
</g>

<!-- P8 diagram -->
<rect x="369" y="524" width="208" height="104" fill="#fff"/>
<g filter="url(#m)">
<rect x="370" y="525" width="93" height="102" fill="#e6f3fc"/><rect x="480" y="525" width="95" height="102" fill="#e6f3fc"/>
<rect x="370" y="525" width="93" height="5" fill="#9ccaf0"/><rect x="480" y="525" width="95" height="5" fill="#9ccaf0"/>
<text x="457" y="529" class="s" fill="#334">应用层</text><text x="567" y="529" class="s" fill="#334">应用层</text>
<g stroke="#888" stroke-width=".5" fill="none">
<path d="M391 563L408 544M416 563L413 544M438 563L420 544"/>
<path d="M501 564L518 545M526 564L524 545M545 564L530 545"/>
</g>
<path d="M416 580V593.500H530.500V580M447 563V553H554.500V564" stroke="#888" stroke-width=".6" stroke-dasharray="1 .6" fill="none"/>
<rect x="400" y="533" width="26" height="11" rx="1" fill="#f7c510" stroke="#a88010" stroke-width=".5"/>
<rect x="510" y="535" width="27" height="10" rx="1" fill="#f7c510" stroke="#a88010" stroke-width=".5"/>
<rect x="373" y="563" width="24" height="17" rx="2" fill="url(#og)"/><rect x="404" y="563" width="24" height="17" rx="2" fill="url(#gr)"/><rect x="436" y="563" width="23" height="17" rx="2" fill="url(#gr)"/>
<rect x="484" y="564" width="22" height="15" rx="2" fill="url(#og)"/><rect x="516" y="564" width="21" height="15" rx="2" fill="url(#yl)"/><rect x="547" y="564" width="22" height="15" rx="2" fill="url(#yl)"/>
<g fill="url(#db)" stroke="#666" stroke-width=".5"><path d="M396 604V618C396 623 436 623 436 618V604Z"/><ellipse cx="416" cy="604" rx="20" ry="3.500"/><path d="M503 601V614C503 619 543 619 543 614V601Z"/><ellipse cx="523" cy="601" rx="20" ry="3.500"/></g>
<g fill="#222"><text x="413" y="540" class="s">GridWebHandler</text><text x="523.500" y="541" class="s">GridWebHandler</text><text x="385" y="571" class="s">交易系统</text><text x="385" y="575" class="s">LocalPublish</text><text x="416" y="572" class="s">成员持仓</text><text x="447" y="571" class="s">行情管理</text><text x="447" y="575" class="s">Client</text><text x="495" y="571" class="s">交易系统</text><text x="495" y="575" class="s">Client</text><text x="526.500" y="571" class="s">持仓系统</text><text x="526.500" y="575" class="s">Client</text><text x="558" y="571" class="s">行情管理</text><text x="558" y="575" class="s">Client</text><text x="416" y="612" class="s">Database</text><text x="523" y="609" class="s">Database</text></g>
<g fill="#444"><circle cx="530.500" cy="581" r=".8"/><circle cx="554.500" cy="563" r=".8"/></g>
</g>

<!-- P9 diagram -->
<g filter="url(#m)">
<g fill="#f4f6fa">
<rect x="817" y="523" width="23" height="5"/><rect x="844" y="522" width="24" height="6"/><rect x="871" y="523" width="22" height="5"/><rect x="896" y="523" width="22" height="5"/><rect x="921" y="523" width="24" height="5"/><rect x="948" y="523" width="25" height="5"/>
<rect x="817" y="529" width="23" height="6"/><rect x="844" y="529" width="24" height="6"/><rect x="871" y="529" width="22" height="6"/><rect x="896" y="529" width="22" height="6"/><rect x="921" y="529" width="24" height="6"/><rect x="948" y="529" width="25" height="6"/><rect x="976" y="529" width="25" height="6"/>
<rect x="817" y="536" width="23" height="5"/><rect x="844" y="536" width="24" height="5"/><rect x="871" y="536" width="22" height="5"/><rect x="896" y="536" width="22" height="5"/><rect x="921" y="536" width="24" height="5"/><rect x="948" y="536" width="25" height="5"/><rect x="976" y="536" width="25" height="5"/>
<rect x="817" y="542" width="23" height="6"/><rect x="844" y="542" width="24" height="6"/><rect x="871" y="542" width="22" height="6"/><rect x="896" y="542" width="22" height="6"/><rect x="921" y="542" width="24" height="6"/><rect x="948" y="542" width="25" height="6"/><rect x="976" y="542" width="25" height="6"/>
<rect x="817" y="549" width="23" height="6"/><rect x="844" y="549" width="24" height="6"/><rect x="871" y="549" width="22" height="6"/><rect x="896" y="549" width="22" height="6"/><rect x="921" y="549" width="24" height="6"/><rect x="948" y="549" width="25" height="6"/><rect x="976" y="549" width="25" height="6"/>
<rect x="816" y="557" width="52" height="7"/><rect x="871" y="557" width="47" height="7"/><rect x="920" y="557" width="53" height="7"/><rect x="977" y="557" width="24" height="7"/>
<rect x="813" y="603" width="20" height="20" rx="3"/><rect x="837" y="603" width="20" height="20" rx="3"/><rect x="860" y="603" width="20" height="20" rx="3"/><rect x="883" y="603" width="22" height="20" rx="3"/><rect x="907" y="603" width="21" height="20" rx="3"/><rect x="931" y="603" width="21" height="20" rx="3"/><rect x="954" y="603" width="51" height="20" rx="3"/>
</g>
<g fill="#333"><text x="828" y="527" class="s">基金财务</text><text x="856" y="526.500" class="s">大类资产</text><text x="882" y="527" class="s">市场情绪</text><text x="907" y="527" class="s">量价分析</text><text x="933" y="527" class="s">公司基本面</text><text x="960" y="527" class="s">大类资产</text><text x="828" y="533" class="s">宏观经济</text><text x="856" y="533" class="s">宏观利率</text><text x="882" y="533" class="s">外汇利率</text><text x="907" y="533" class="s">流动性</text><text x="933" y="533" class="s">利率衍生</text><text x="960" y="533" class="s">大宗商品</text><text x="988" y="533" class="s">投资行情</text><text x="828" y="540" class="s">市场走势</text><text x="856" y="540" class="s">利率期限</text><text x="882" y="540" class="s">资本流向</text><text x="907" y="540" class="s">信用风险</text><text x="933" y="540" class="s">量化分析</text><text x="960" y="540" class="s">FICC 业务</text><text x="988" y="540" class="s">风险预警</text><text x="828" y="546" class="s">市场周期</text><text x="856" y="546" class="s">基金组合</text><text x="882" y="546" class="s">基金业绩</text><text x="907" y="546" class="s">市场风险</text><text x="933" y="546" class="s">资产配置</text><text x="960" y="546" class="s">行情走势</text><text x="988" y="546" class="s">市场情绪</text><text x="828" y="553" class="s">业绩归因</text><text x="856" y="553" class="s">大类资产</text><text x="882" y="553" class="s">基金期权</text><text x="907" y="553" class="s">基金风险</text><text x="933" y="553" class="s">行业指数</text><text x="960" y="553" class="s">信用分析</text><text x="988" y="553" class="s">市场行情</text></g>
<g><text x="842" y="561.500" class="s" fill="#4a7ad8">运营和基础数据</text><text x="894" y="561.500" class="s" fill="#4a7ad8">交易所对应数据</text><text x="946" y="561.500" class="s" fill="#4a7ad8">券市及金融风险产品</text><text x="989" y="561.500" class="s" fill="#4a7ad8">智能数据</text></g>
<g fill="#565a72"><rect x="814" y="567" width="37" height="32" rx="5"/><rect x="854" y="567" width="35" height="32" rx="5"/><rect x="892" y="567" width="36" height="32" rx="5"/><rect x="931" y="567" width="36" height="32" rx="5"/><rect x="970" y="567" width="34" height="32" rx="5"/></g>
<g><text x="832.500" y="572.500" class="s" style="font-size:4.200px" fill="#f0f0f6">衍生指标</text><text x="871.500" y="572.500" class="s" style="font-size:4.200px" fill="#f0f0f6">因子库</text><text x="910" y="572.500" class="s" style="font-size:4.200px" fill="#f0f0f6">知识图谱</text><text x="949" y="572.500" class="s" style="font-size:4.200px" fill="#f0f0f6">统计分布</text><text x="987" y="572.500" class="s" style="font-size:4.200px" fill="#f0f0f6">趋势预测</text></g>
<g stroke="#c0c2d2" stroke-width=".8" stroke-dasharray="9 1.500"><path d="M820 578H834M820 581H836M820 584H832M820 587H842M820 590H844M820 593H830"/><path d="M860 578H876M860 581H876M860 584H876M860 587H876M860 590H876M860 593H876"/><path d="M897 580H922M897 583H918M897 586H922M897 589H918"/><path d="M936 578H962M936 581H962M936 584H962M936 587H962M936 590H960M936 593H946"/><path d="M975 578H1000M975 581H1000M975 584H1000M975 587H982M975 590H990M975 593H990"/></g>
<g fill="#333"><text x="823" y="607" class="s">宏观数据</text><text x="847" y="607" class="s">行业数据</text><text x="870" y="607" class="s">公司基本面</text><text x="894" y="607" class="s">交易数据</text><text x="917" y="607" class="s">金融产品</text><text x="941" y="607" class="s">新闻资讯</text><text x="980" y="607" class="s">按应用域数据</text></g>
<g stroke="#666" stroke-width=".7" stroke-dasharray="8 1.500"><path d="M816 610H830M816 613H830M816 616H830M816 619H830"/><path d="M840 610H854M840 613H854M840 616H854M840 619H854"/><path d="M863 610H877M863 613H877M863 616H877M863 619H877"/><path d="M886 610H902M886 613H902M886 616H902M886 619H902"/><path d="M910 610H925M910 613H925M910 616H925M910 619H925"/><path d="M934 610H949M934 613H949M934 616H949M934 619H949"/><path d="M958 611H972M976 611H990M958 615H972M976 615H990M958 619H972M993 611H1002M993 615H1002"/></g>
<polygon points="1014,522 1026,534 1020,534 1020,623 1008,623 1008,534 1002,534" fill="#6a6e86" stroke="#a8b0c4" stroke-width=".4"/>
<g stroke="#aab" stroke-width=".4"><path d="M1008 549H1020M1008 561H1020M1008 573H1020M1008 584H1020M1008 596H1020M1008 606H1020M1008 614H1020"/></g>
<text x="1014" y="532" class="s" fill="#eef">数据工具</text>
<g><text x="1014" y="541" class="s" fill="#dfe2ee">数据库</text><text x="1014" y="545" class="s" fill="#dfe2ee">运营</text><text x="1014" y="555" class="s" fill="#dfe2ee">工具</text><text x="1014" y="565" class="s" fill="#dfe2ee">资源产品</text><text x="1014" y="569" class="s" fill="#dfe2ee">工具</text><text x="1014" y="578" class="s" fill="#dfe2ee">工具</text><text x="1014" y="590" class="s" fill="#dfe2ee">风险</text><text x="1014" y="594" class="s" fill="#dfe2ee">分析</text><text x="1014" y="603" class="s" fill="#dfe2ee">数据服务</text><text x="1014" y="612" class="s" fill="#dfe2ee">运营</text><text x="1014" y="620" class="s" fill="#dfe2ee">数据平台</text></g>
</g>
</svg>
</body></html>
